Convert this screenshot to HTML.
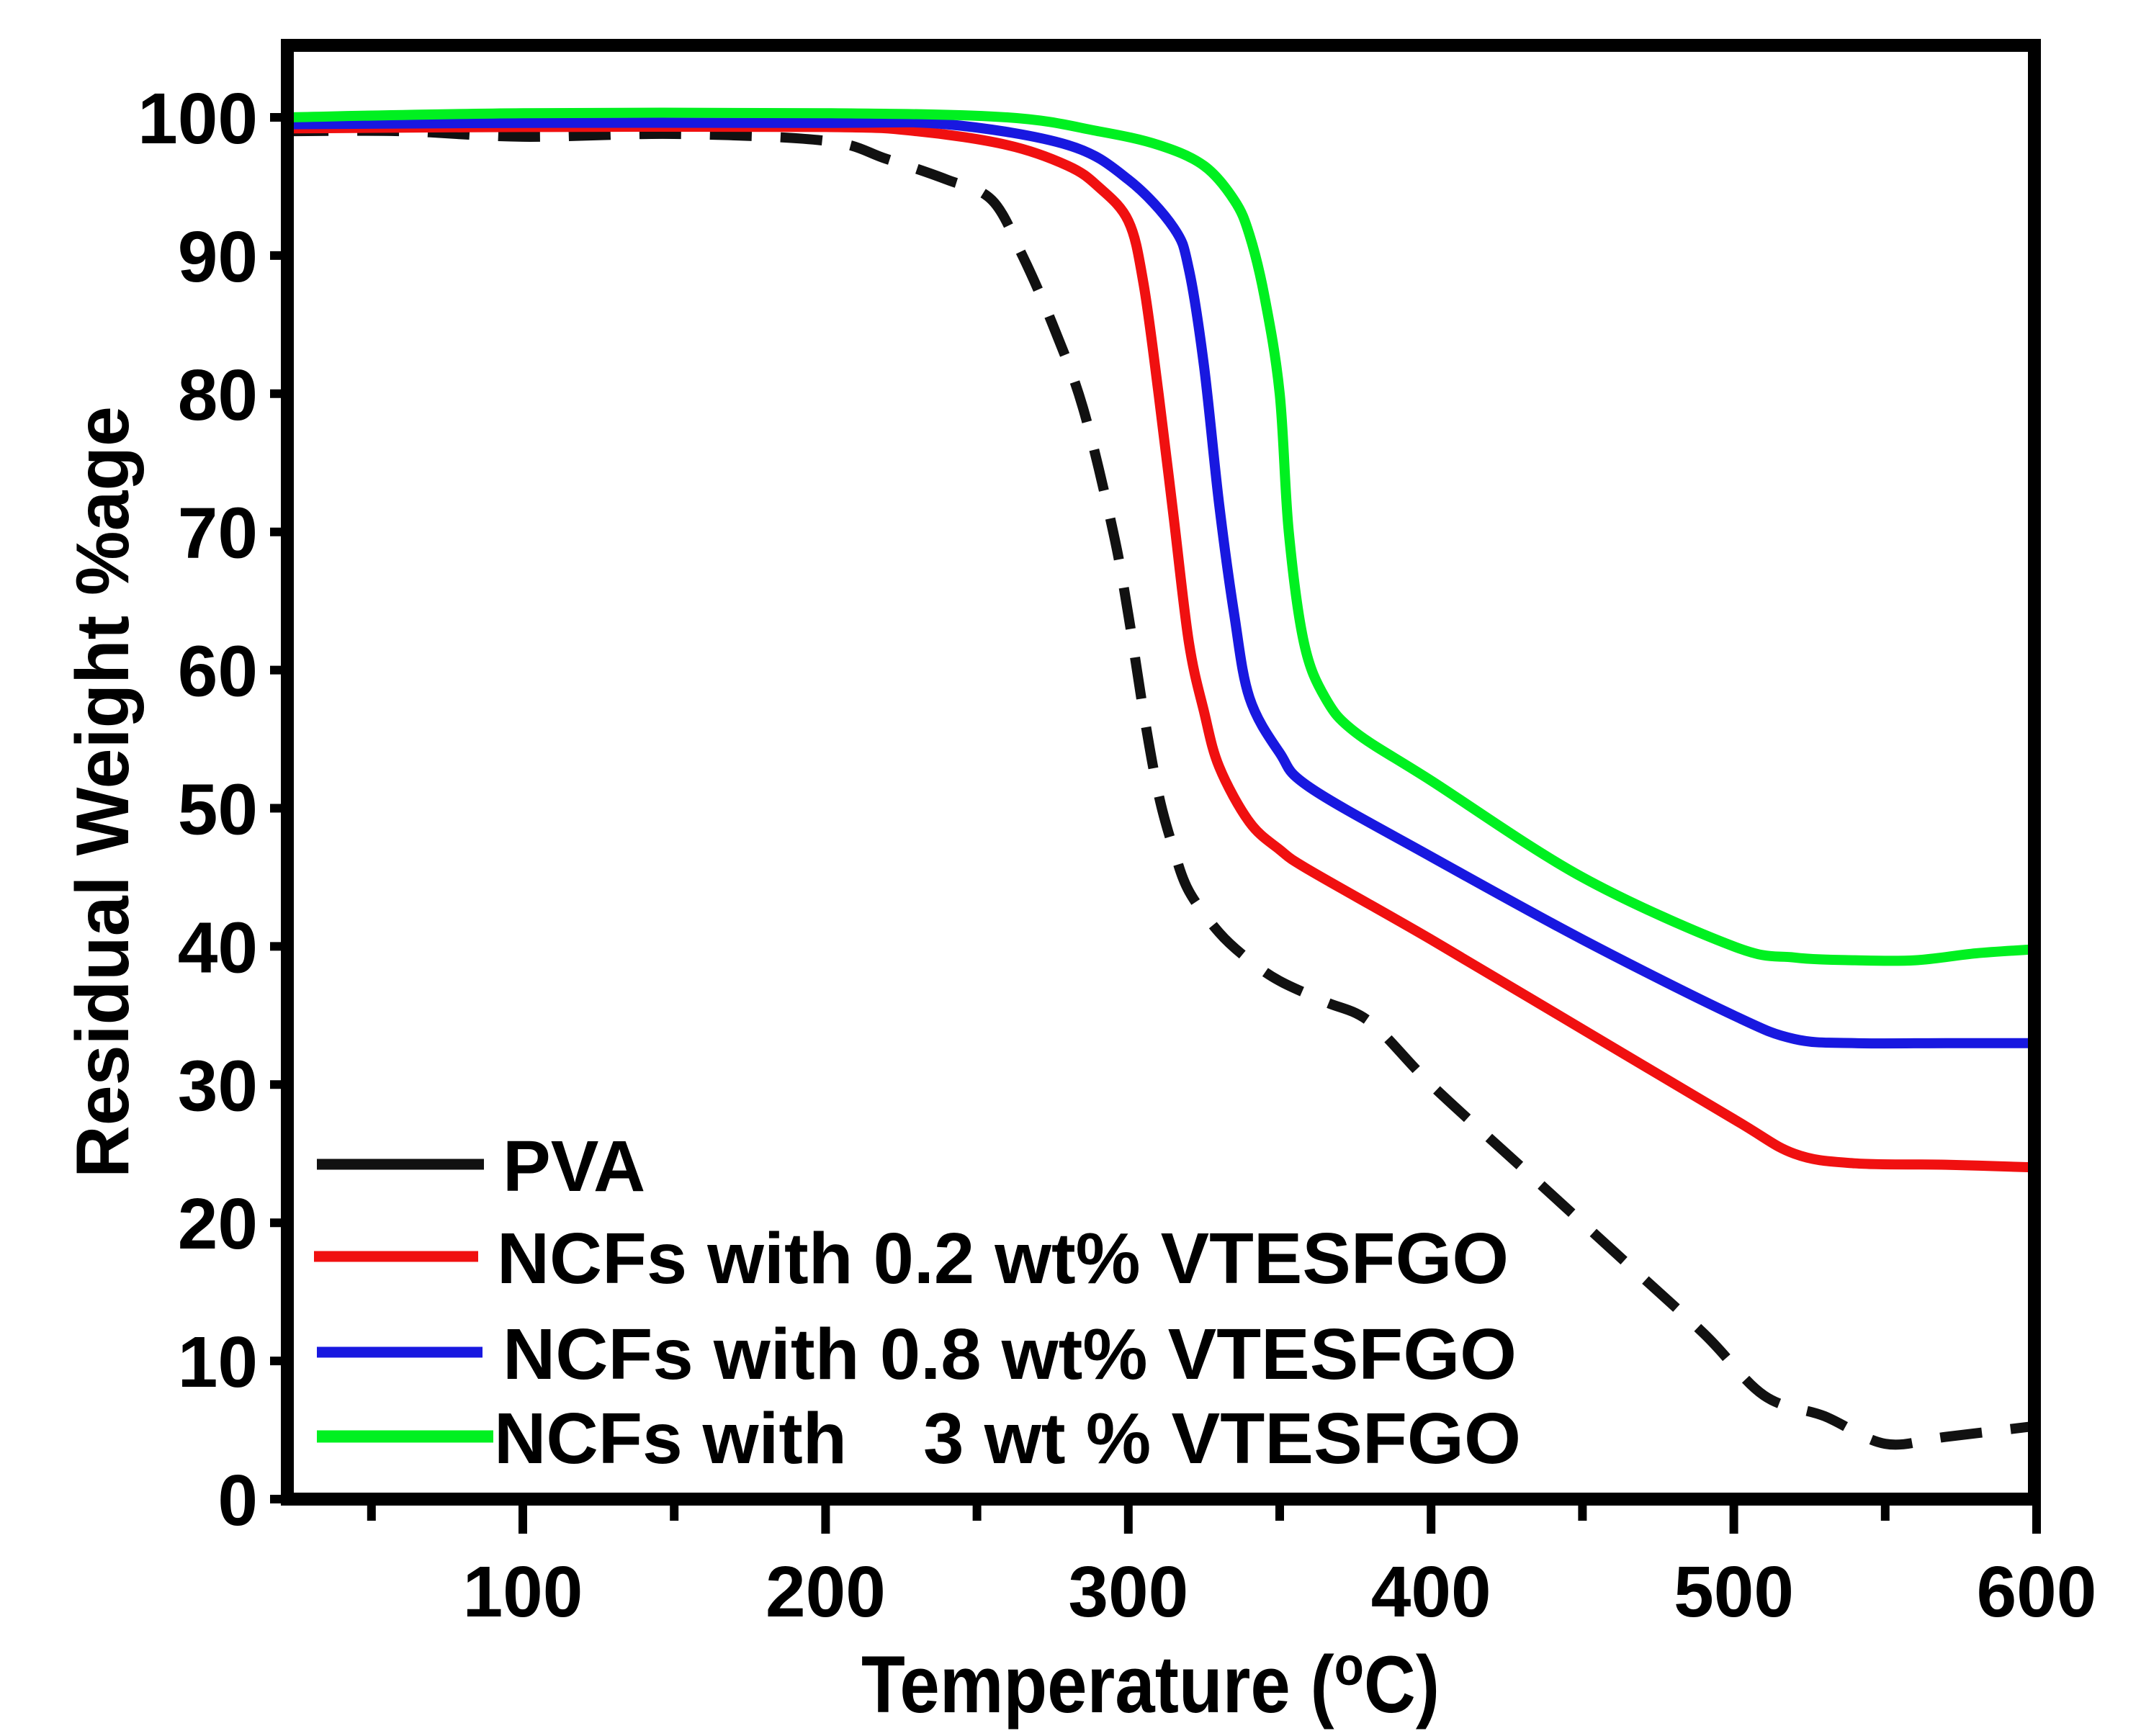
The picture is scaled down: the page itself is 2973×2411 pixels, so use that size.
<!DOCTYPE html>
<html><head><meta charset="utf-8"><style>
html,body{margin:0;padding:0;background:#fff;}
svg{display:block;}
text{font-family:"Liberation Sans",Arial,sans-serif;font-weight:bold;fill:#000;}
</style></head>
<body>
<svg id="chart" width="2973" height="2411" viewBox="0 0 2973 2411" xmlns="http://www.w3.org/2000/svg">
<g id="curves"></g>
<rect x="399" y="63" width="2426" height="2019" fill="none" stroke="#000" stroke-width="18"/>
<g id="ticks"></g>
<text x="1196" y="2378" font-size="112" textLength="803" lengthAdjust="spacingAndGlyphs">Temperature (<tspan font-size="76" dy="-38">o</tspan><tspan dy="38">C)</tspan></text>
<text transform="translate(178,1100) rotate(-90)" font-size="104" text-anchor="middle" textLength="1072" lengthAdjust="spacingAndGlyphs">Residual Weight %age</text>
<g id="legend">
<line x1="440" y1="1617" x2="672" y2="1617" stroke="#111" stroke-width="15"/>
<text x="698" y="1654" font-size="100">PVA</text>
<line x1="436" y1="1745" x2="664" y2="1745" stroke="#f01010" stroke-width="15"/>
<text x="690" y="1782" font-size="100" textLength="1405" lengthAdjust="spacingAndGlyphs">NCFs with 0.2 wt% VTESFGO</text>
<line x1="440" y1="1878" x2="670" y2="1878" stroke="#1818e0" stroke-width="15"/>
<text x="698" y="1915" font-size="100" textLength="1408" lengthAdjust="spacingAndGlyphs">NCFs with 0.8 wt% VTESFGO</text>
<line x1="440" y1="1995" x2="685" y2="1995" stroke="#00f020" stroke-width="17"/>
<text x="686" y="2032" font-size="100" textLength="490" lengthAdjust="spacingAndGlyphs">NCFs with</text>
<text x="1282" y="2032" font-size="100" textLength="830" lengthAdjust="spacingAndGlyphs">3 wt % VTESFGO</text>
</g>
</svg>
<script>
const pvaT=[22,60,100,150,200,220,240,255,265,275,285,295,300,305,310,315,320,330,340,350,365,380,400,430,460,490,510,530,550,570,600];
const pvaW=[99,99,98.6,98.8,98.3,97,95.5,94,90,85,79,70,64,57,51,47,44,41,39,37.5,36,34.5,30,24,18,12,7.5,6,4,4.5,5.3];
const redT=[22,100,200,230,260,280,290,300,305,310,315,320,325,330,340,350,360,400,450,500,520,540,570,600];
const redW=[99.2,99.3,99.3,99,98,96.5,95,92.5,88,80,71,62,57,53,49,47,45.5,40.5,34,27.5,25,24.3,24.2,24];
const blueT=[22,100,200,240,280,300,315,320,325,330,335,340,350,360,400,450,500,520,540,570,600];
const blueW=[99.5,99.6,99.6,99.5,98,95.5,92,89,82,72,64,58,54,51.5,46.5,40.5,35,33.3,33,33,33];
const greenT=[22,100,200,260,290,310,325,335,340,345,350,353,358,365,375,400,450,500,520,540,560,580,600];
const greenW=[100,100.3,100.3,100,99,98,96.5,94,91.5,87,80,70,62,58,55.5,52,45,40,39.2,39,39,39.5,39.8];
const xTicks=[100,200,300,400,500,600];
const yTicks=[0,10,20,30,40,50,60,70,80,90,100];
const NS='http://www.w3.org/2000/svg';
function xs(t){return 305.6+(t)*4.204;}
function ys(w){return 2082-w*19.19;}
function smoothPath(T,W){
  const p=T.map((t,i)=>[xs(t),ys(W[i])]);
  let d='M'+p[0][0].toFixed(1)+','+p[0][1].toFixed(1);
  for(let i=0;i<p.length-1;i++){
    const p0=p[Math.max(i-1,0)],p1=p[i],p2=p[i+1],p3=p[Math.min(i+2,p.length-1)];
    const c1=[p1[0]+(p2[0]-p0[0])/6,p1[1]+(p2[1]-p0[1])/6];
    const c2=[p2[0]-(p3[0]-p1[0])/6,p2[1]-(p3[1]-p1[1])/6];
    d+=' C'+c1[0].toFixed(1)+','+c1[1].toFixed(1)+' '+c2[0].toFixed(1)+','+c2[1].toFixed(1)+' '+p2[0].toFixed(1)+','+p2[1].toFixed(1);
  }
  return d;
}
const curves=document.getElementById('curves');
function addCurve(T,W,color,name,dash){
  const el=document.createElementNS(NS,'path');
  el.setAttribute('d',smoothPath(T,W));
  el.setAttribute('fill','none');
  el.setAttribute('stroke',color);
  el.setAttribute('stroke-width','14');
  el.setAttribute('stroke-linejoin','round');
  if(dash)el.setAttribute('stroke-dasharray',dash);
  
  
  curves.appendChild(el);
}
addCurve(pvaT,pvaW,'#111','pva-curve','58 40');
addCurve(redT,redW,'#f01010','red-curve',null);
addCurve(blueT,blueW,'#1818e0','blue-curve',null);
addCurve(greenT,greenW,'#00f020','green-curve',null);
const ticks=document.getElementById('ticks');
function mk(tag,attrs){const e=document.createElementNS(NS,tag);for(const k in attrs)e.setAttribute(k,attrs[k]);return e;}
for(let t=50;t<=600;t+=50){
  const major=t%100===0;
  const l=mk('line',{x1:xs(t),x2:xs(t),y1:2082,y2:major?2130:2112,stroke:'#000','stroke-width':12});
  
  
  ticks.appendChild(l);
}
xTicks.forEach(v=>{
  const tx=mk('text',{x:xs(v),y:2245,'font-size':100,'text-anchor':'middle'});
  tx.textContent=String(v);
  
  
  ticks.appendChild(tx);
});
yTicks.forEach(v=>{
  const l=mk('line',{x1:375,x2:399,y1:ys(v),y2:ys(v),stroke:'#000','stroke-width':12});
  
  
  ticks.appendChild(l);
  const tx=mk('text',{x:358,y:ys(v)+36,'font-size':100,'text-anchor':'end'});
  tx.textContent=String(v);
  
  
  ticks.appendChild(tx);
});
</script>
</body></html>
